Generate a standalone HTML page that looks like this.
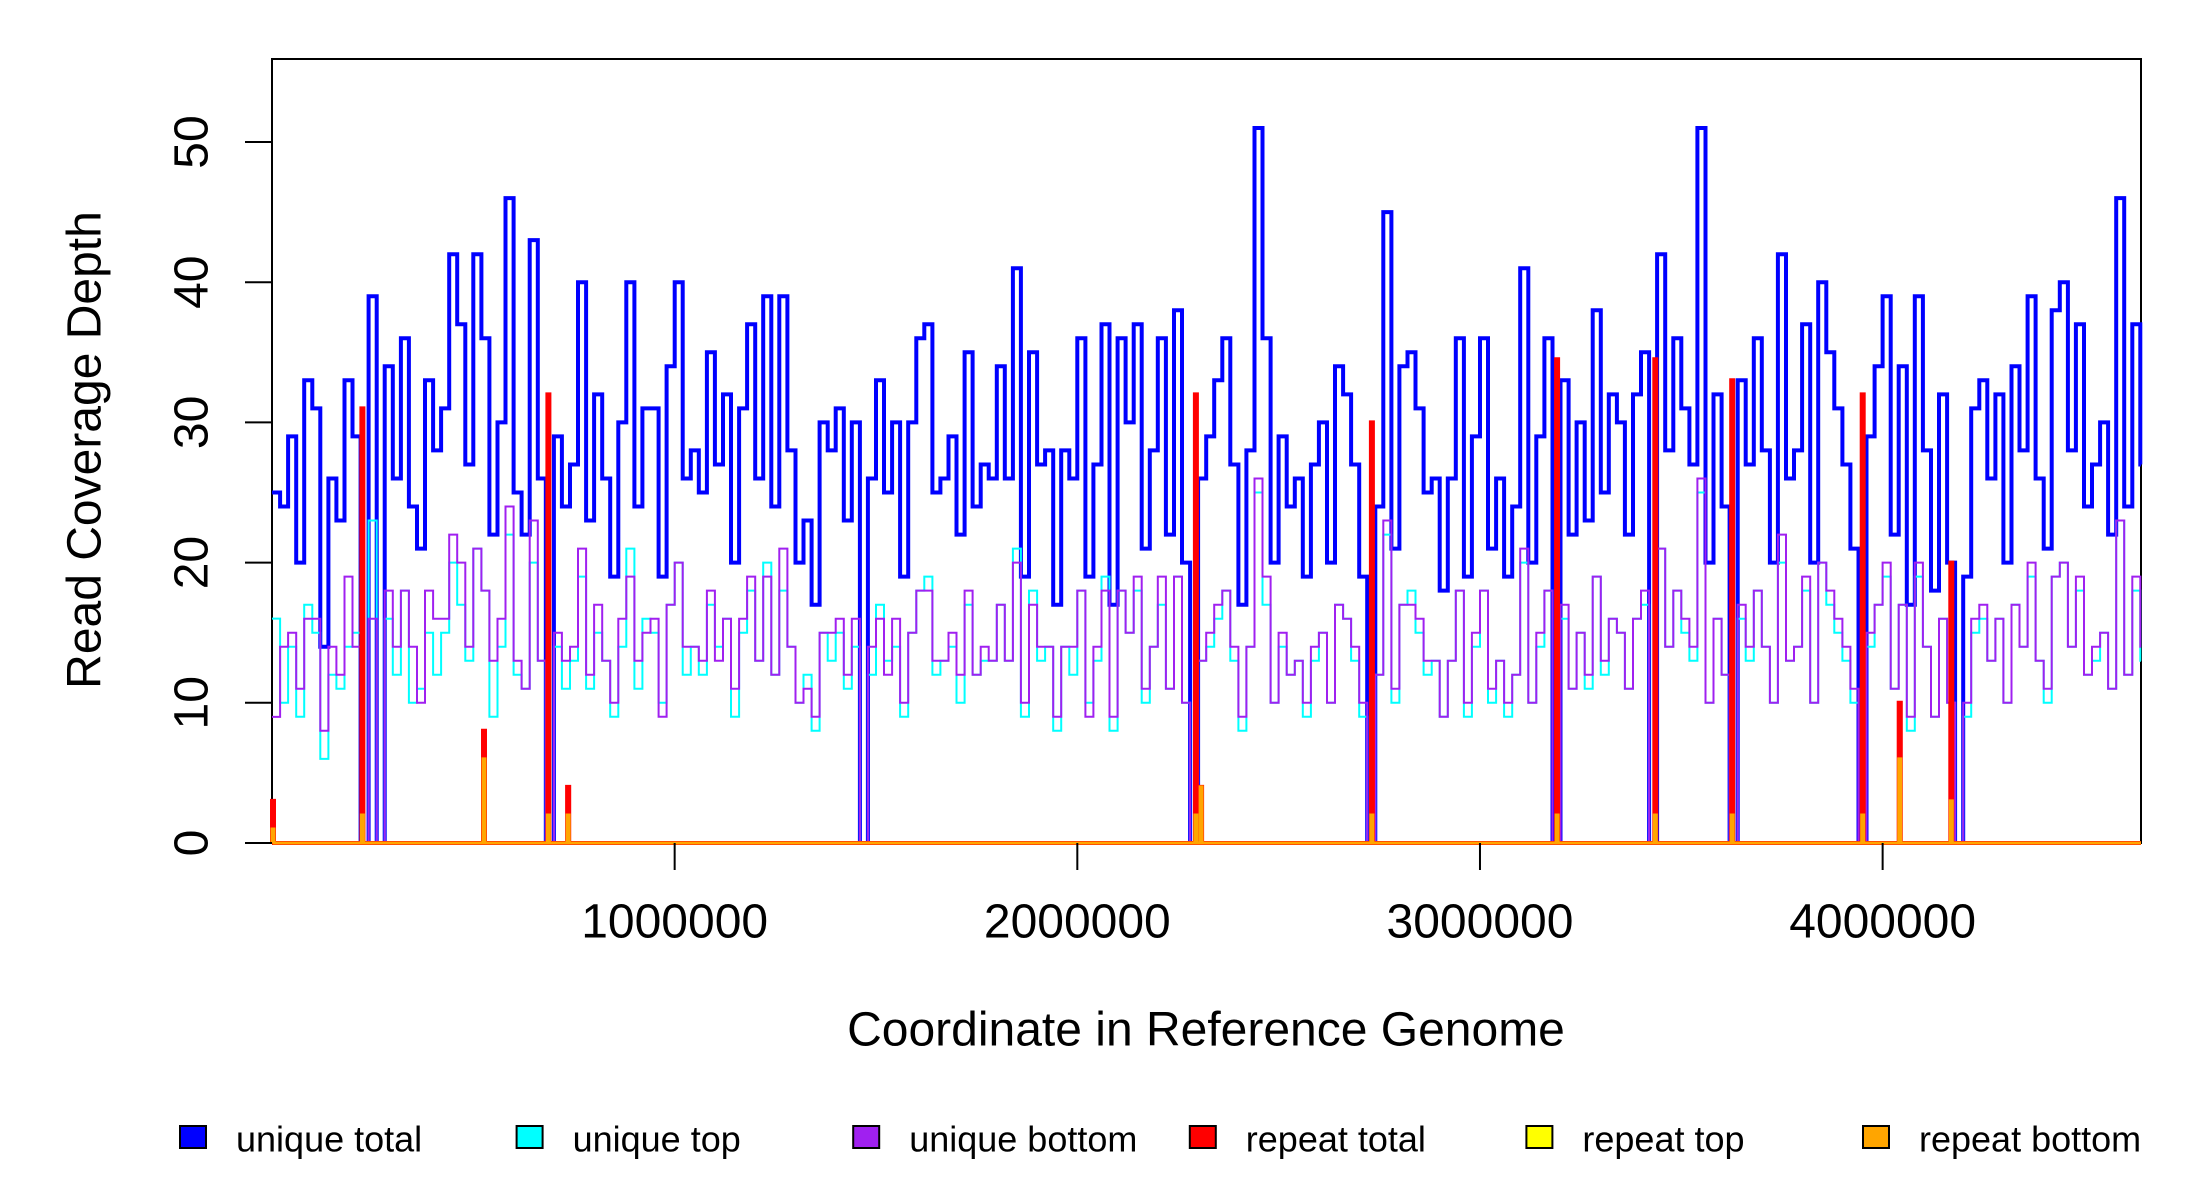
<!DOCTYPE html>
<html><head><meta charset="utf-8"><style>
html,body{margin:0;padding:0;background:#fff;}
svg{display:block;font-family:"Liberation Sans",sans-serif;}
</style></head><body>
<svg id="chart" width="2200" height="1200" viewBox="0 0 2200 1200" xmlns="http://www.w3.org/2000/svg">
<rect x="0" y="0" width="2200" height="1200" fill="#fff"/>
<rect x="272" y="59" width="1869" height="784" fill="none" stroke="#000" stroke-width="2"/>
<g id="marks"></g>
<g id="axes"></g>
<text x="85" y="450" font-size="48" text-anchor="middle" dominant-baseline="central" transform="rotate(-90 85 450)">Read Coverage Depth</text>
<text x="1206" y="1030" font-size="48" text-anchor="middle" dominant-baseline="central">Coordinate in Reference Genome</text>
<g id="legend"></g>
</svg>
<script>
const binSize = 20000;
const genomeLength = 4641652;
const yTicks = [0, 10, 20, 30, 40, 50];
const xTicks = [1000000, 2000000, 3000000, 4000000];
const xTickLabels = ["1000000", "2000000", "3000000", "4000000"];
const uniqueTotal = [
25,24,29,20,33,31,14,26,23,33,
29,0,39,0,34,26,36,24,21,33,
28,31,42,37,27,42,36,22,30,46,
25,22,43,26,0,29,24,27,40,23,
32,26,19,30,40,24,31,31,19,34,
40,26,28,25,35,27,32,20,31,37,
26,39,24,39,28,20,23,17,30,28,
31,23,30,0,26,33,25,30,19,30,
36,37,25,26,29,22,35,24,27,26,
34,26,41,19,35,27,28,17,28,26,
36,19,27,37,17,36,30,37,21,28,
36,22,38,20,0,26,29,33,36,27,
17,28,51,36,20,29,24,26,19,27,
30,20,34,32,27,19,0,24,45,21,
34,35,31,25,26,18,26,36,19,29,
36,21,26,19,24,41,20,29,36,0,
33,22,30,23,38,25,32,30,22,32,
35,0,42,28,36,31,27,51,20,32,
24,0,33,27,36,28,20,42,26,28,
37,20,40,35,31,27,21,0,29,34,
39,22,34,17,39,28,18,32,20,0,
19,31,33,26,32,20,34,28,39,26,
21,38,40,28,37,24,27,30,22,46,24,37,27];
const uniqueTop = [
16,10,14,9,17,15,6,12,11,14,
15,0,23,0,16,12,18,10,11,15,
12,15,20,17,13,21,18,9,14,22,
12,11,20,13,0,14,11,13,19,11,
15,13,9,14,21,11,16,15,10,17,
20,12,14,12,17,14,16,9,15,18,
13,20,12,18,14,10,12,8,15,13,
15,11,14,0,12,17,13,14,9,15,
18,19,12,13,14,10,17,12,13,13,
17,13,21,9,18,13,14,8,14,12,
18,10,13,19,8,18,15,18,10,14,
17,11,19,10,0,13,14,16,18,13,
8,14,25,17,10,14,12,13,9,13,
15,10,17,16,13,9,0,12,22,10,
17,18,15,12,13,9,13,18,9,14,
18,10,13,9,12,20,10,14,18,0,
16,11,15,11,19,12,16,15,11,16,
17,0,21,14,18,15,13,25,10,16,
12,0,16,13,18,14,10,20,13,14,
18,10,20,17,15,13,10,0,14,17,
19,11,17,8,19,14,9,16,10,0,
9,15,16,13,16,10,17,14,19,13,
10,19,20,14,18,12,13,15,11,23,12,18,13];
const uniqueBottom = [
9,14,15,11,16,16,8,14,12,19,
14,0,16,0,18,14,18,14,10,18,
16,16,22,20,14,21,18,13,16,24,
13,11,23,13,0,15,13,14,21,12,
17,13,10,16,19,13,15,16,9,17,
20,14,14,13,18,13,16,11,16,19,
13,19,12,21,14,10,11,9,15,15,
16,12,16,0,14,16,12,16,10,15,
18,18,13,13,15,12,18,12,14,13,
17,13,20,10,17,14,14,9,14,14,
18,9,14,18,9,18,15,19,11,14,
19,11,19,10,0,13,15,17,18,14,
9,14,26,19,10,15,12,13,10,14,
15,10,17,16,14,10,0,12,23,11,
17,17,16,13,13,9,13,18,10,15,
18,11,13,10,12,21,10,15,18,0,
17,11,15,12,19,13,16,15,11,16,
18,0,21,14,18,16,14,26,10,16,
12,0,17,14,18,14,10,22,13,14,
19,10,20,18,16,14,11,0,15,17,
20,11,17,9,20,14,9,16,10,0,
10,16,17,13,16,10,17,14,20,13,
11,19,20,14,19,12,14,15,11,23,12,19,14];
const repeatStarts = [0, 222000, 524000, 684000, 733000, 2292000, 2305000, 2729000, 3189000, 3433000, 3624000, 3948000, 4040000, 4168000];
const repeatTotal = [3, 31, 8, 32, 4, 32, 4, 30, 34.5, 34.5, 33, 32, 10, 20];
const repeatTop = [1, 2, 2, 1, 1, 1, 0, 1, 1, 1, 1, 1, 2, 2];
const repeatBottom = [1, 2, 6, 2, 2, 2, 4, 2, 2, 2, 2, 2, 6, 3];
const repeatWidth = 5000;
const legendLabels = ["unique total","unique top","unique bottom","repeat total","repeat top","repeat bottom"];
const legendColors = ["#0000ff","#00ffff","#a020f0","#ff0000","#ffff00","#ffa500"];

const NS = "http://www.w3.org/2000/svg";
const PL = 272, PR = 2141, PT = 59, Y0 = 843, YPER = 14.02;
const xScale = v => PL + (v / genomeLength) * (PR - PL);
const yScale = v => Y0 - v * YPER;
const marks = document.getElementById('marks');
const axes = document.getElementById('axes');

function binPath(vals) {
  let d = 'M' + xScale(0) + ',' + yScale(vals[0]);
  for (let i = 0; i < vals.length; i++) {
    const x1 = xScale(Math.min((i + 1) * binSize, genomeLength));
    d += 'H' + x1.toFixed(1);
    if (i + 1 < vals.length) d += 'V' + yScale(vals[i + 1]).toFixed(1);
  }
  return d;
}
function spikePath(vals) {
  let d = 'M' + xScale(0) + ',' + yScale(0);
  for (let i = 0; i < repeatStarts.length; i++) {
    const a = xScale(repeatStarts[i]), b = xScale(repeatStarts[i] + repeatWidth);
    d += 'H' + a.toFixed(1) + 'V' + yScale(vals[i]).toFixed(1) + 'H' + b.toFixed(1) + 'V' + yScale(0);
  }
  d += 'H' + xScale(genomeLength);
  return d;
}
function addPath(d, color, w, name) {
  const p = document.createElementNS(NS, 'path');
  p.setAttribute('d', d);
  p.setAttribute('fill', 'none');
  p.setAttribute('stroke', color);
  p.setAttribute('stroke-width', w);
  
  
  marks.appendChild(p);
}
addPath(binPath(uniqueTotal), '#0000ff', 4, 'unique-total-line');
addPath(binPath(uniqueTop), '#00ffff', 2, 'unique-top-line');
addPath(binPath(uniqueBottom), '#a020f0', 2, 'unique-bottom-line');
addPath(spikePath(repeatTotal), '#ff0000', 4, 'repeat-total-line');
addPath(spikePath(repeatTop), '#ffff00', 2, 'repeat-top-line');
addPath(spikePath(repeatBottom), '#ffa500', 3, 'repeat-bottom-line');

yTicks.forEach(v => {
  const y = yScale(v);
  const l = document.createElementNS(NS, 'line');
  l.setAttribute('x1', 245); l.setAttribute('x2', PL);
  l.setAttribute('y1', y); l.setAttribute('y2', y);
  l.setAttribute('stroke', '#000'); l.setAttribute('stroke-width', 2);
  
  
  axes.appendChild(l);
  const t = document.createElementNS(NS, 'text');
  t.setAttribute('x', 192); t.setAttribute('y', y);
  t.setAttribute('font-size', 48);
  t.setAttribute('text-anchor', 'middle');
  t.setAttribute('dominant-baseline', 'central');
  t.setAttribute('transform', 'rotate(-90 192 ' + y + ')');
  t.textContent = String(v);
  
  
  axes.appendChild(t);
});
xTicks.forEach((v, i) => {
  const x = xScale(v);
  const l = document.createElementNS(NS, 'line');
  l.setAttribute('x1', x); l.setAttribute('x2', x);
  l.setAttribute('y1', Y0); l.setAttribute('y2', Y0 + 27);
  l.setAttribute('stroke', '#000'); l.setAttribute('stroke-width', 2);
  
  
  axes.appendChild(l);
  const t = document.createElementNS(NS, 'text');
  t.setAttribute('x', x); t.setAttribute('y', 922);
  t.setAttribute('font-size', 48);
  t.setAttribute('text-anchor', 'middle');
  t.setAttribute('dominant-baseline', 'central');
  t.textContent = xTickLabels[i];
  
  
  axes.appendChild(t);
});
const legend = document.getElementById('legend');
legendLabels.forEach((lab, i) => {
  const bx = 180 + i * 336.6;
  const g = document.createElementNS(NS, 'g');
  
  
  const r = document.createElementNS(NS, 'rect');
  r.setAttribute('x', bx); r.setAttribute('y', 1126);
  r.setAttribute('width', 26); r.setAttribute('height', 22);
  r.setAttribute('fill', legendColors[i]); r.setAttribute('stroke', '#000'); r.setAttribute('stroke-width', 2);
  
  
  g.appendChild(r);
  const t = document.createElementNS(NS, 'text');
  t.setAttribute('x', bx + 56); t.setAttribute('y', 1139);
  t.setAttribute('font-size', 36);
  t.setAttribute('dominant-baseline', 'central');
  t.textContent = lab;
  
  
  g.appendChild(t);
  legend.appendChild(g);
});
</script>
</body></html>
